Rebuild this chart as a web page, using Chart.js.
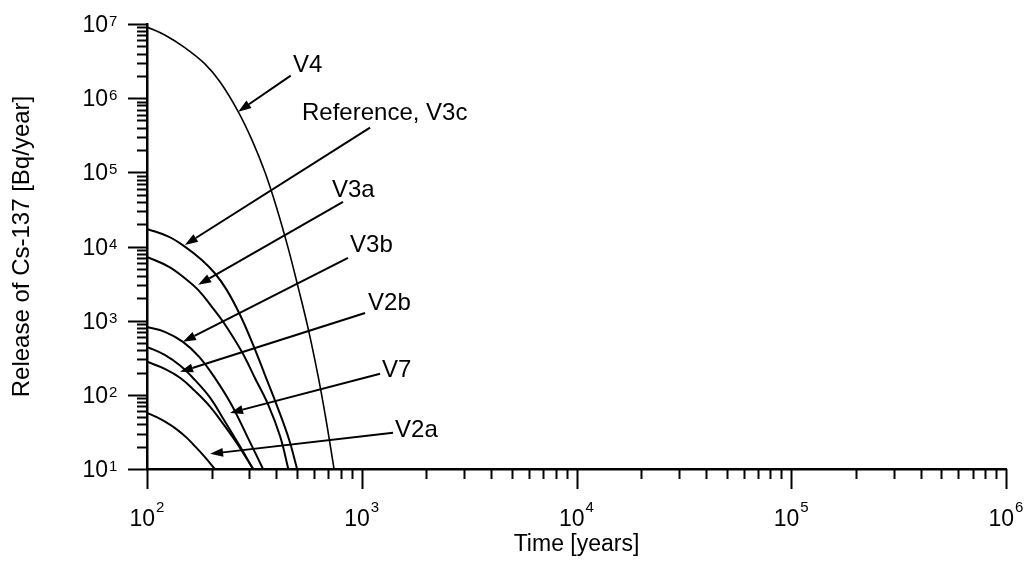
<!DOCTYPE html>
<html>
<head>
<meta charset="utf-8">
<title>Release of Cs-137</title>
<script src="https://cdn.jsdelivr.net/npm/chart.js@4.4.1/dist/chart.umd.min.js"></script>
<style>
  html, body { margin: 0; padding: 0; background: #fff; }
  canvas { display: block; }
</style>
</head>
<body>
<canvas id="releaseChart" width="1029" height="565"></canvas>
<script>
// values (time in years, release in Bq/year)
const v4Years     = [100, 121, 150, 186, 219, 265, 308, 354, 403, 454, 505, 562, 626, 682, 743];
const v4Release   = [9.1e6, 7.1e6, 4.8e6, 2.9e6, 1.65e6, 6.7e5, 2.74e5, 1.01e5, 3.21e4, 9570, 2860, 800, 180, 46, 10];
const v3cYears    = [100, 126, 150, 180, 207, 235, 271, 312, 354, 403, 459, 500];
const v3cRelease  = [1.73e4, 1.36e4, 9970, 6590, 4360, 2600, 1200, 472, 186, 71.1, 24.8, 10];
const v3aYears    = [100, 126, 150, 173, 200, 227, 276, 318, 367, 417, 455];
const v3aRelease  = [7240, 5360, 3740, 2600, 1550, 950, 383, 169, 73.3, 27.4, 10];
const v3bYears    = [100, 121, 147, 175, 207, 246, 292, 347];
const v3bRelease  = [824, 706, 518, 325, 169, 75.7, 28.0, 10];
const v2bYears    = [100, 121, 143, 167, 197, 228, 265, 312];
const v2bRelease  = [444, 346, 246, 159, 91.2, 46.1, 22.5, 10];
const v7Years     = [100, 121, 143, 167, 197, 228, 265, 312];
const v7Release   = [279, 224, 169, 113, 68.9, 39.4, 21.2, 10];
const v2aYears    = [100, 111, 123, 137, 152, 168, 187, 207];
const v2aRelease  = [57.1, 49.9, 42.4, 34.5, 26.9, 20.0, 14.2, 10];

const seriesNames = ['V4', 'Reference, V3c', 'V3a', 'V3b', 'V2b', 'V7', 'V2a'];

// where each name sits and where its arrow runs (in data units)
const labelAt   = [[479, 2.25e6], [527, 5.08e5], [727, 4.66e4], [882, 8460], [1070, 1400], [1243, 175], [1429, 27.2]];
const arrowFrom = [[467, 2.01e6], [1093, 4.0e5], [818, 3.99e4], [863, 7020], [1036, 1270], [1217, 192], [1399, 30.8]];
const arrowTo   = [[266, 6.58e5], [150, 1.05e4], [173, 3040], [147, 518], [142.5, 204], [243.5, 57.1], [196.6, 16.0]];

const xTickExponents = [2, 3, 4, 5, 6];
const yTickExponents = [1, 2, 3, 4, 5, 6, 7];

const FONT = '"Liberation Sans", Arial, Helvetica, sans-serif';

const toPoints = (xs, ys) => xs.map((t, i) => ({x: t, y: ys[i]}));

const curves = [
  [v4Years, v4Release, 1.6],
  [v3cYears, v3cRelease, 2],
  [v3aYears, v3aRelease, 2],
  [v3bYears, v3bRelease, 2],
  [v2bYears, v2bRelease, 2],
  [v7Years, v7Release, 2],
  [v2aYears, v2aRelease, 2]
];

// ticks, superscript tick labels, arrows and curve names
const figureDecor = {
  id: 'figureDecor',
  afterDraw(chart) {
    const {ctx, chartArea, scales: {x, y}} = chart;
    ctx.save();
    ctx.strokeStyle = '#000';
    ctx.fillStyle = '#000';
    ctx.lineWidth = 2;

    // y ticks, pointing out to the left
    const yFirst = yTickExponents[0], yLast = yTickExponents[yTickExponents.length - 1];
    for (let e = yFirst; e <= yLast; e++) {
      for (let m = 1; m <= (e === yLast ? 1 : 9); m++) {
        const py = Math.round(y.getPixelForValue(m * Math.pow(10, e))) + 0.5;
        const len = m === 1 ? 19 : 10;
        ctx.beginPath();
        ctx.moveTo(chartArea.left, py);
        ctx.lineTo(chartArea.left - len, py);
        ctx.stroke();
      }
    }
    // x ticks, pointing down
    const xFirst = xTickExponents[0], xLast = xTickExponents[xTickExponents.length - 1];
    for (let e = xFirst; e <= xLast; e++) {
      for (let m = 1; m <= (e === xLast ? 1 : 9); m++) {
        const px = Math.round(x.getPixelForValue(m * Math.pow(10, e))) + 0.5;
        const len = m === 1 ? 20 : 10;
        ctx.beginPath();
        ctx.moveTo(px, chartArea.bottom);
        ctx.lineTo(px, chartArea.bottom + len);
        ctx.stroke();
      }
    }

    // tick labels 10^n
    const baseFont = '23px ' + FONT;
    const supFont = '15px ' + FONT;
    ctx.textBaseline = 'alphabetic';
    ctx.textAlign = 'left';
    yTickExponents.forEach(e => {
      const py = y.getPixelForValue(Math.pow(10, e));
      ctx.font = baseFont;
      const w = ctx.measureText('10').width;
      const right = chartArea.left - 39;
      ctx.fillText('10', right - w, py + 8);
      ctx.font = supFont;
      ctx.fillText(String(e), right + 1, py + 2);
    });
    xTickExponents.forEach(e => {
      const px = x.getPixelForValue(Math.pow(10, e));
      ctx.font = baseFont;
      const w = ctx.measureText('10').width;
      ctx.font = supFont;
      const ws = ctx.measureText(String(e)).width;
      const left = px - (w + 1 + ws) / 2;
      ctx.font = baseFont;
      ctx.fillText('10', left, chartArea.bottom + 57);
      ctx.font = supFont;
      ctx.fillText(String(e), left + w + 1, chartArea.bottom + 43);
    });

    // arrows
    ctx.lineWidth = 2;
    arrowFrom.forEach((from, i) => {
      const x0 = x.getPixelForValue(from[0]), y0 = y.getPixelForValue(from[1]);
      const x1 = x.getPixelForValue(arrowTo[i][0]), y1 = y.getPixelForValue(arrowTo[i][1]);
      const ang = Math.atan2(y1 - y0, x1 - x0);
      const headLen = 13, headHalf = 4.5;
      const bx = x1 - headLen * Math.cos(ang), by = y1 - headLen * Math.sin(ang);
      ctx.beginPath();
      ctx.moveTo(x0, y0);
      ctx.lineTo(bx, by);
      ctx.stroke();
      ctx.beginPath();
      ctx.moveTo(x1, y1);
      ctx.lineTo(bx + headHalf * Math.sin(ang), by - headHalf * Math.cos(ang));
      ctx.lineTo(bx - headHalf * Math.sin(ang), by + headHalf * Math.cos(ang));
      ctx.closePath();
      ctx.fill();
    });

    // curve names
    ctx.font = '24px ' + FONT;
    seriesNames.forEach((name, i) => {
      ctx.fillText(name, x.getPixelForValue(labelAt[i][0]), y.getPixelForValue(labelAt[i][1]));
    });
    ctx.restore();
  }
};

new Chart(document.getElementById('releaseChart'), {
  type: 'scatter',
  data: {
    datasets: curves.map(([xs, ys, w], i) => ({
      label: seriesNames[i],
      data: toPoints(xs, ys),
      showLine: true,
      borderColor: '#000',
      borderWidth: w,
      pointRadius: 0,
      tension: 0.4
    }))
  },
  options: {
    responsive: false,
    animation: false,
    devicePixelRatio: 1,
    layout: { padding: { top: 24, right: 23, left: 0, bottom: 0 } },
    plugins: {
      legend: { display: false },
      tooltip: { enabled: false }
    },
    scales: {
      x: {
        type: 'logarithmic',
        min: 100,
        max: 1e6,
        grid: { display: false },
        border: { display: true, color: '#000', width: 2.5 },
        ticks: { display: false },
        title: {
          display: true,
          text: 'Time [years]',
          color: '#000',
          font: { family: FONT, size: 23 },
          padding: { top: 0, bottom: 7 }
        },
        afterFit: (scale) => { scale.height = 96 }
      },
      y: {
        type: 'logarithmic',
        min: 10,
        max: 1e7,
        grid: { display: false },
        border: { display: true, color: '#000', width: 2.5 },
        ticks: { display: false },
        title: {
          display: true,
          text: 'Release of Cs-137 [Bq/year]',
          color: '#000',
          font: { family: FONT, size: 24 },
          padding: { top: 8, bottom: 0 }
        },
        afterFit: (scale) => { scale.width = 147 }
      }
    }
  },
  plugins: [figureDecor]
});
</script>
</body>
</html>
